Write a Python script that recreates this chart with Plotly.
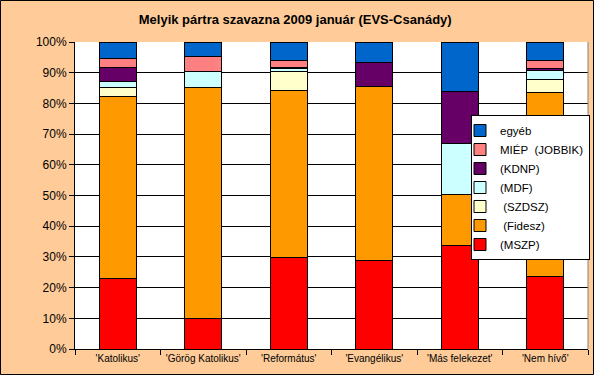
import plotly.graph_objects as go

categories = ["'Katolikus'", "'Görög Katolikus'", "'Református'", "'Evangélikus'", "'Más felekezet'", "'Nem hívő'"]

mszp   = [23.0, 9.9, 29.9, 28.9, 33.8, 23.5]
fidesz = [59.1, 75.2, 54.2, 56.7, 16.4, 59.9]
szdsz  = [3.0, 0.0, 6.3, 0.0, 0.0, 4.3]
mdf    = [1.9, 5.2, 1.0, 0.0, 16.6, 3.0]
kdnp   = [4.6, 0.0, 0.3, 7.6, 17.0, 0.7]
miep   = [2.9, 4.9, 2.3, 0.0, 0.0, 2.7]
egyeb  = [5.5, 4.8, 6.0, 6.8, 16.2, 5.9]

series = [
    ("(MSZP)", mszp, "#FF0000"),
    ("\u00a0(Fidesz)", fidesz, "#FF9900"),
    ("\u00a0(SZDSZ)", szdsz, "#FFFFCC"),
    ("(MDF)", mdf, "#CCFFFF"),
    ("(KDNP)", kdnp, "#660066"),
    ("MIÉP\u00a0\u00a0(JOBBIK)", miep, "#FF8080"),
    ("egyéb", egyeb, "#0066CC"),
]

fig = go.Figure()
for name, vals, col in series:
    fig.add_trace(go.Bar(
        x=categories, y=[v / 100 for v in vals], name=name,
        marker=dict(color=col, line=dict(color="black", width=1)),
    ))

W, H = 594, 375
ml, mr, mt, mb = 75, 6, 42, 26
pw, ph = W - ml - mr, H - mt - mb

fig.update_layout(
    width=W, height=H, autosize=False,
    barmode="stack", bargap=0.57,
    paper_bgcolor="#FFCC99", plot_bgcolor="#FFFFFF",
    margin=dict(l=ml, r=mr, t=mt, b=mb, pad=0, autoexpand=False),
    font=dict(family="Liberation Sans, Arial, sans-serif", size=11, color="black"),
    title=dict(text="<b>Melyik pártra szavazna 2009 január (EVS-Csanády)</b>",
               x=0.497, xanchor="center", y=1 - 19 / H, yanchor="middle",
               font=dict(size=13, color="black")),
    showlegend=True,
    legend=dict(traceorder="reversed", x=(590 - ml) / pw, y=(H - mb - 115) / ph,
                xanchor="right", yanchor="top", bgcolor="white",
                bordercolor="black", borderwidth=1, indentation=-12,
                font=dict(size=11.5), tracegroupgap=0, itemwidth=30),
    xaxis=dict(showline=True, linecolor="black", linewidth=1, ticks="outside",
               tickson="boundaries", ticklen=5, tickcolor="black",
               tickangle=0, automargin=False,
               tickfont=dict(size=10)),
    yaxis=dict(range=[0, 1], tickformat=".0%", dtick=0.1, showgrid=True,
               gridcolor="black", gridwidth=1, showline=True, linecolor="black",
               ticks="outside", ticklen=5, tickcolor="black", zeroline=False,
               automargin=False, tickfont=dict(size=12)),
)

# plot area right border (gray) and outer chart border
fig.add_shape(type="line", xref="paper", yref="paper", x0=1, x1=1, y0=0, y1=1,
              line=dict(color="#808080", width=1))
fig.add_shape(type="rect", xref="paper", yref="paper",
              x0=-ml / pw + 0.5 / pw, x1=1 + (mr - 0.5) / pw,
              y0=-mb / ph + 0.5 / ph, y1=1 + (mt - 0.5) / ph,
              fillcolor="rgba(0,0,0,0)",
              line=dict(color="black", width=1), layer="above")

fig.write_html(
    "out.html",
    config={"displayModeBar": False},
    post_script="document.body.style.margin='0';document.body.style.padding='0';"
                "document.body.style.background='#FFCC99';",
)
